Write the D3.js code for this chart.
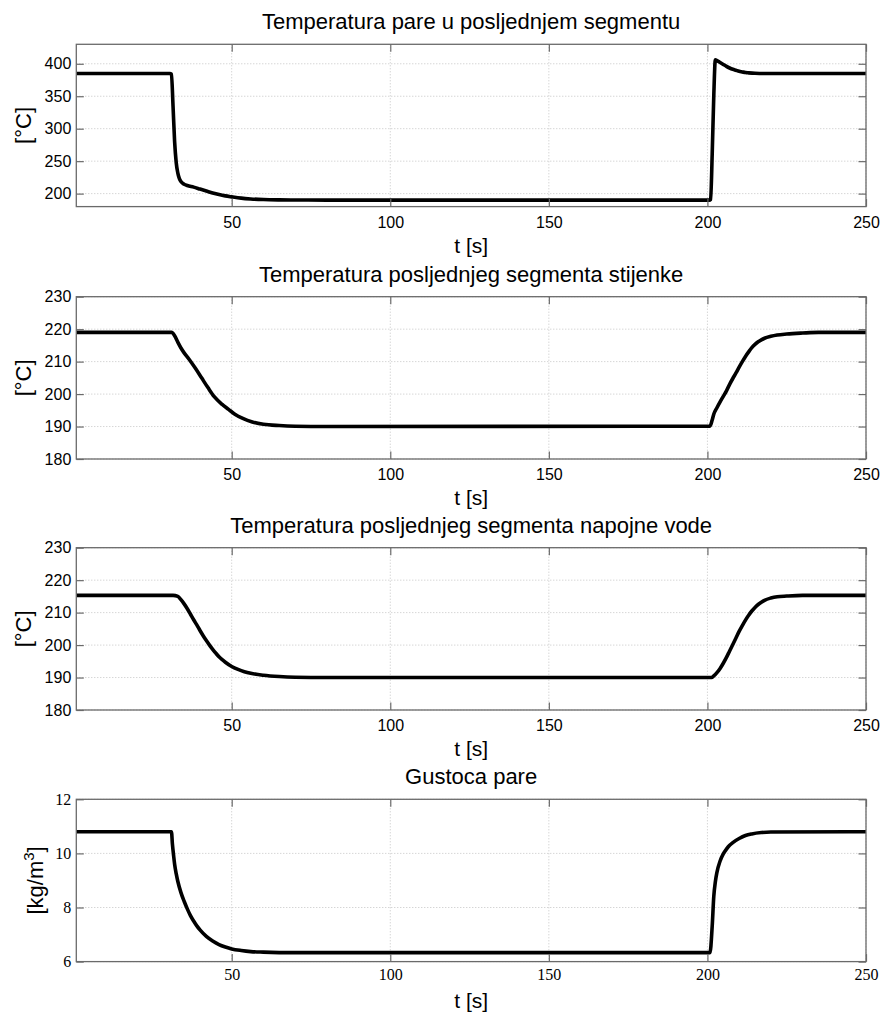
<!DOCTYPE html>
<html>
<head>
<meta charset="utf-8">
<script src="https://cdn.jsdelivr.net/npm/d3@7"></script>
<style>
  html, body { margin: 0; padding: 0; background: #fff; }
  svg { display: block; }
</style>
</head>
<body>
<svg id="chart" width="882" height="1014"></svg>
<script>
// ---------- data ----------
const titles = [
  "Temperatura pare u posljednjem segmentu",
  "Temperatura posljednjeg segmenta stijenke",
  "Temperatura posljednjeg segmenta napojne vode",
  "Gustoca pare"
];
const xLabel = "t [s]";
const xTicks = [50, 100, 150, 200, 250];
const xDomain = [1, 250];

const yDomains = [[180, 430], [180, 230], [180, 230], [6, 12]];
const yTicks = [
  [200, 250, 300, 350, 400],
  [180, 190, 200, 210, 220, 230],
  [180, 190, 200, 210, 220, 230],
  [6, 8, 10, 12]
];

// Panel 1: steam temperature in last segment [°C]
const t1 = [1, 30.5, 31, 31.5, 32, 32.5, 33, 33.5, 34, 35, 36, 38, 40, 42, 44, 46, 48, 50, 53, 56, 60, 65, 70, 80,
            200.6, 201, 201.5, 202, 202.5, 203, 204, 205, 206, 207, 208, 209, 210, 211, 212, 213, 215, 218, 250];
const v1 = [385, 385, 384, 335, 280, 248, 232, 223, 218.5, 214.5, 212.5, 210, 207, 204, 201, 198.5, 196.5, 195, 193, 191.8, 190.9, 190.4, 190.2, 190,
            190, 191, 260, 350, 406, 405, 402, 399, 396, 393.5, 391.5, 390, 388.5, 387.5, 386.5, 386, 385.3, 385, 385];

// Panel 2: wall temperature of last segment [°C]
const t2 = [1, 31, 32, 33, 34, 35, 36.5, 38.5, 40.5, 42.5, 44.5, 47, 49, 51, 53.5, 56.5, 60, 65, 70, 80,
            200.8, 201.5, 202, 203, 204, 205, 206, 207, 208, 209, 210, 211, 212, 213, 214, 215, 216, 217, 218, 220, 222, 225, 230, 235, 250];
const v2 = [219, 219, 218, 216, 214.2, 212.7, 210.8, 208, 205, 202, 199.2, 196.8, 195.3, 193.8, 192.5, 191.4, 190.7, 190.3, 190.1, 190,
            190.1, 192, 193.8, 195.8, 197.6, 199.3, 201, 203, 204.8, 206.5, 208.3, 210, 211.6, 213, 214.3, 215.3, 216.1, 216.7, 217.2, 217.8, 218.2, 218.5, 218.8, 219, 219];

// Panel 3: feed water temperature of last segment [°C]
const t3 = [1, 31.5, 33, 34, 35, 36, 37, 38, 39, 40, 41, 42, 43, 44, 45, 46, 47, 48, 50, 52, 54, 56, 60, 65, 70, 80,
            201.3, 202, 203, 204, 205, 206, 207, 208, 209, 210, 211, 212, 213, 214, 215, 216, 217, 218, 220, 222, 225, 230, 250];
const v3 = [215.3, 215.3, 215, 214, 212.7, 211.2, 209.5, 207.8, 206.2, 204.5, 202.9, 201.4, 200, 198.7, 197.5, 196.4, 195.5, 194.7, 193.4, 192.5, 191.8, 191.3, 190.7, 190.3, 190.1, 190,
            190, 190.5, 191.5, 192.8, 194.4, 196.2, 198.2, 200.2, 202.2, 204.2, 206, 207.7, 209.2, 210.5, 211.6, 212.5, 213.2, 213.8, 214.5, 214.9, 215.1, 215.3, 215.3];

// Panel 4: steam density [kg/m3]
const t4 = [1, 31, 31.3, 31.7, 32, 32.5, 33, 34, 35, 36, 37, 38, 39, 40, 42, 44, 46, 48, 50, 53, 56, 60, 70,
            200.8, 201.5, 202, 202.5, 203, 204, 205, 206, 207, 208, 210, 212, 214, 217, 220, 250];
const v4 = [10.8, 10.8, 10.35, 9.9, 9.6, 9.25, 8.97, 8.55, 8.23, 7.95, 7.7, 7.5, 7.32, 7.17, 6.93, 6.76, 6.63, 6.54, 6.47, 6.41, 6.37, 6.35, 6.33,
            6.33, 7.3, 8.4, 8.95, 9.3, 9.72, 9.98, 10.16, 10.3, 10.4, 10.55, 10.66, 10.72, 10.77, 10.79, 10.8];

const series = [[t1, v1], [t2, v2], [t3, v3], [t4, v4]];

// ---------- layout ----------
const left = 76.3, right = 866, ph = 162.3;
const tops = [44.3, 296.7, 547.7, 799.3];
const sans = "'Liberation Sans', Arial, Helvetica, sans-serif";
const serif = "'Liberation Serif', 'Times New Roman', serif";
const axisColor = "#6a6a6a";
const tickLen = 7.5;

const svg = d3.select("#chart");

const x = d3.scaleLinear().domain(xDomain).range([left, right]);

series.forEach((s, i) => {
  const top = tops[i], bottom = top + ph;
  const y = d3.scaleLinear().domain(yDomains[i]).range([bottom, top]);
  const g = svg.append("g");
  const tickFont = i === 3 ? serif : sans;

  // grid
  const grid = g.append("g").attr("stroke", "#c4c4c4").attr("stroke-width", 1).attr("stroke-dasharray", "1,2");
  grid.selectAll("line.gx").data(xTicks).join("line")
    .attr("x1", d => x(d)).attr("x2", d => x(d)).attr("y1", top).attr("y2", bottom);
  grid.selectAll("line.gy").data(yTicks[i]).join("line")
    .attr("x1", left).attr("x2", right).attr("y1", d => y(d)).attr("y2", d => y(d));

  // data line
  const pts = s[0].map((t, k) => [t, s[1][k]]);
  g.append("path")
    .datum(pts)
    .attr("fill", "none")
    .attr("stroke", "#000")
    .attr("stroke-width", 3.6)
    .attr("stroke-linejoin", "round")
    .attr("stroke-linecap", "butt")
    .attr("d", d3.line().x(d => x(d[0])).y(d => y(d[1])).curve(d3.curveMonotoneX));

  // axes
  const styleAxis = sel => {
    sel.select(".domain").remove();
    sel.selectAll(".tick line").attr("stroke", axisColor).attr("stroke-width", 1.2);
    sel.selectAll(".tick text").attr("fill", "#000").attr("font-family", tickFont).attr("font-size", 16);
  };
  g.append("g").attr("transform", `translate(0,${bottom})`)
    .call(d3.axisBottom(x).tickValues(xTicks).tickSize(-tickLen).tickPadding(i === 3 ? 7 : 10).tickFormat(d3.format("d")))
    .call(styleAxis);
  g.append("g").attr("transform", `translate(0,${top})`)
    .call(d3.axisTop(x).tickValues(xTicks).tickSize(-tickLen).tickFormat(""))
    .call(styleAxis);
  g.append("g").attr("transform", `translate(${left},0)`)
    .call(d3.axisLeft(y).tickValues(yTicks[i]).tickSize(-tickLen).tickPadding(5).tickFormat(d3.format("d")))
    .call(styleAxis);
  g.append("g").attr("transform", `translate(${right},0)`)
    .call(d3.axisRight(y).tickValues(yTicks[i]).tickSize(-tickLen).tickFormat(""))
    .call(styleAxis);

  // box
  g.append("rect")
    .attr("x", left).attr("y", top).attr("width", right - left).attr("height", ph)
    .attr("fill", "none").attr("stroke", axisColor).attr("stroke-width", 1.3);

  // title
  g.append("text")
    .attr("x", (left + right) / 2).attr("y", top - 15)
    .attr("text-anchor", "middle")
    .attr("font-family", sans).attr("font-size", 22).attr("fill", "#000")
    .text(titles[i]);

  // x label
  g.append("text")
    .attr("x", (left + right) / 2).attr("y", bottom + 46)
    .attr("text-anchor", "middle")
    .attr("font-family", sans).attr("font-size", 21).attr("fill", "#000")
    .text(xLabel);

  // y label
  const cy = (top + bottom) / 2;
  const bx = i === 3 ? 42.5 : 30.5;
  const yl = g.append("text")
    .attr("transform", `translate(${bx},${cy}) rotate(-90)`)
    .attr("text-anchor", "middle")
    .attr("font-family", sans).attr("font-size", 22).attr("fill", "#000");
  if (i === 3) {
    yl.append("tspan").text("[kg/m");
    yl.append("tspan").attr("font-size", 15).attr("dy", -9).text("3");
    yl.append("tspan").attr("dy", 9).text("]");
  } else {
    yl.text("[°C]");
  }
});
</script>
</body>
</html>
